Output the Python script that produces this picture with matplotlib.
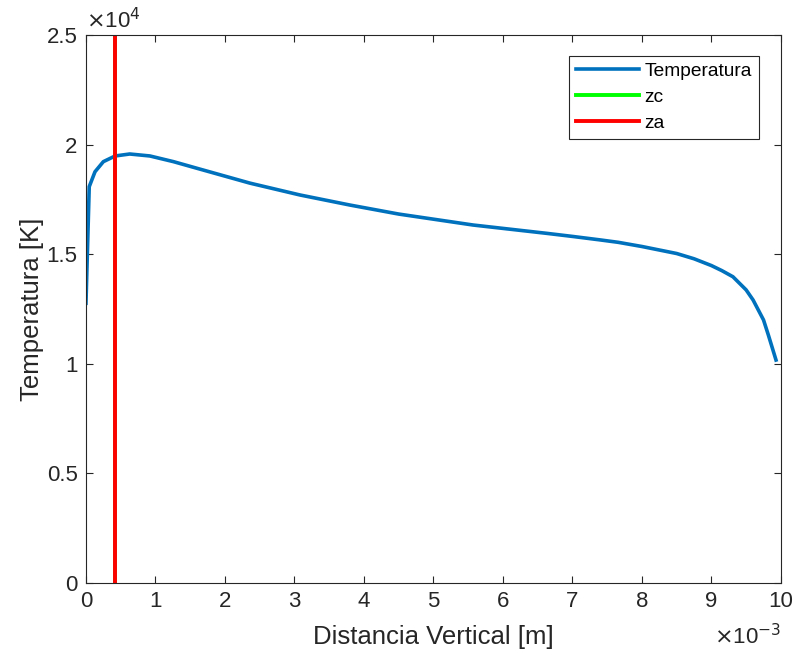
import numpy as np
import matplotlib
matplotlib.use("Agg")
import matplotlib.pyplot as plt
from matplotlib.ticker import FuncFormatter

plt.rcParams['font.family'] = ['Liberation Sans', 'DejaVu Sans']

# Perfil de temperatura
z = np.array([0.0, 0.047, 0.13, 0.25, 0.42, 0.63, 0.92, 1.26, 1.64, 2.36, 3.08,
              3.8, 4.5, 5.57, 6.63, 7.0, 7.4, 7.66, 8.0, 8.5, 8.75, 9.0, 9.15,
              9.31, 9.5, 9.6, 9.75, 9.82, 9.93]) * 1e-3
T = np.array([12760, 18080, 18760, 19220, 19480, 19570, 19480, 19220, 18880, 18240, 17700,
              17240, 16830, 16330, 15950, 15810, 15650, 15540, 15350, 15030, 14790, 14480, 14250,
              13970, 13370, 12910, 12000, 11310, 10170])

zc = 0.42e-3
za = 0.42e-3
y_lim = [0, 25000]

x_ticks = np.arange(0, 11) * 1e-3
y_ticks = np.arange(0, 2.51, 0.5) * 1e4

fig = plt.figure(figsize=(7.96, 6.55), dpi=100)
ax = fig.add_axes([0.108, 0.110, 0.873, 0.8366])

ax.plot(z, T, color='#0072BD', lw=2.6, label='Temperatura')
ax.plot([zc, zc], y_lim, color='#00FF00', lw=2.8, label='zc')
ax.plot([za, za], y_lim, color='#FF0000', lw=2.8, label='za')

ax.set_xlim(0, 0.01)
ax.set_ylim(*y_lim)
ax.set_xticks(x_ticks)
ax.set_yticks(y_ticks)
ax.xaxis.set_major_formatter(FuncFormatter(lambda v, p: f"{v*1e3:g}"))
ax.yaxis.set_major_formatter(FuncFormatter(lambda v, p: f"{v/1e4:g}"))

ax.tick_params(direction='in', length=5, width=0.8, top=True, right=True,
               labelsize=16, colors='#262626', pad=6)
for s in ax.spines.values():
    s.set_color('#262626')
    s.set_linewidth(0.8)

ax.set_xlabel('Distancia Vertical [m]', fontsize=18.5, color='#262626', labelpad=9)
ax.set_ylabel('Temperatura [K]', fontsize=18.5, color='#262626', labelpad=2)

ax.text(0.0, 1.003, r'$\times$10$^4$', transform=ax.transAxes, fontsize=16,
        color='#262626', ha='left', va='bottom')
ax.text(1.0, -0.075, r'$\times$10$^{\mathsf{-3}}$', transform=ax.transAxes, fontsize=16,
        color='#262626', ha='right', va='top')

leg = ax.legend(loc='upper right', bbox_to_anchor=(0.968, 0.962), fontsize=13.8,
                fancybox=False, edgecolor='#262626', framealpha=1, handlelength=3.3,
                borderpad=0.35, labelspacing=0.45, handletextpad=0.3, borderaxespad=0)
leg.get_frame().set_linewidth(0.8)

fig.savefig('out.png', dpi=100)
